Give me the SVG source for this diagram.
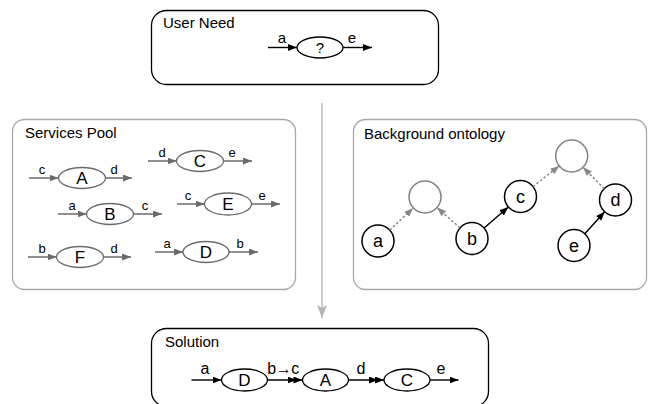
<svg xmlns="http://www.w3.org/2000/svg" width="655" height="404" viewBox="0 0 655 404">
<style>
text{font-family:"Liberation Sans",Arial,sans-serif;fill:#000}
.title{font-size:15px}
.box{fill:#fff;stroke:#000;stroke-width:1.3}
.pool{fill:#fff;stroke:#a8a8a8;stroke-width:1.3}
.sn{fill:#fff;stroke:#6a6a6a;stroke-width:1.3}
.sl{font-size:17px;text-anchor:middle}
.sm{font-size:13px;text-anchor:middle}
.ga{stroke:#6a6a6a;stroke-width:1.5;fill:none;marker-end:url(#ag)}
.ba{stroke:#000;stroke-width:1.4;fill:none;marker-end:url(#ab)}
.bd{stroke:#000;stroke-width:1.4;fill:none;marker-end:url(#abb)}
.bn{fill:#fff;stroke:#000;stroke-width:1.3}
.on{fill:#fff;stroke:#000;stroke-width:1.5}
.og{fill:#fff;stroke:#808080;stroke-width:1.5}
.ol{font-size:18px;text-anchor:middle}
.dot{stroke:#888;stroke-width:1.5;stroke-dasharray:2.5 2;fill:none;marker-end:url(#ad)}
.sol{stroke:#000;stroke-width:1.5;fill:none;marker-end:url(#ab)}
</style>
<defs>
<marker id="ab" viewBox="0 0 9 7" refX="9" refY="3.5" markerWidth="9" markerHeight="7" markerUnits="userSpaceOnUse" orient="auto"><path d="M0,0 L9,3.5 L0,7 z" fill="#000"/></marker>
<marker id="abb" viewBox="0 0 15 7" refX="15" refY="3.5" markerWidth="15" markerHeight="7" markerUnits="userSpaceOnUse" orient="auto"><path d="M0,0 L9,3.5 L0,7 z M6,0 L15,3.5 L6,7 z" fill="#000"/></marker>
<marker id="ag" viewBox="0 0 9 7" refX="9" refY="3.5" markerWidth="9" markerHeight="7" markerUnits="userSpaceOnUse" orient="auto"><path d="M0,0 L9,3.5 L0,7 z" fill="#6a6a6a"/></marker>
<marker id="ad" viewBox="0 0 9 7" refX="9" refY="3.5" markerWidth="9" markerHeight="7" markerUnits="userSpaceOnUse" orient="auto"><path d="M0,0 L9,3.5 L0,7 z" fill="#888"/></marker>
<marker id="av" viewBox="0 0 13 10" refX="13" refY="5" markerWidth="13" markerHeight="10" markerUnits="userSpaceOnUse" orient="auto"><path d="M0,0 L13,5 L0,10 L3,5 z" fill="#b4b4b4"/></marker>
</defs>

<g id="user-need">
<rect class="box" x="151.5" y="10.5" width="287" height="74" rx="15"/>
<text class="title" x="163" y="28">User Need</text>
<ellipse class="bn" cx="320" cy="47.5" rx="23" ry="10.5"/>
<text x="320" y="53" font-size="15" text-anchor="middle">?</text>
<text x="282" y="43" font-size="15" text-anchor="middle">a</text>
<text x="352" y="43" font-size="15" text-anchor="middle">e</text>
</g>

<g id="services-pool">
<rect class="pool" x="12.5" y="119.5" width="283" height="170" rx="12"/>
<text class="title" x="25" y="138">Services Pool</text>
</g>

<g id="svc-A">
<ellipse class="sn" cx="82" cy="178" rx="23.5" ry="10.5"/>
<text class="sl" x="82" y="184">A</text>
<text class="sm" x="42" y="174">c</text>
<text class="sm" x="114" y="174">d</text>
</g>
<g id="svc-C">
<ellipse class="sn" cx="200" cy="161" rx="23.5" ry="10.5"/>
<text class="sl" x="200" y="167">C</text>
<text class="sm" x="162" y="157">d</text>
<text class="sm" x="232" y="157">e</text>
</g>
<g id="svc-E">
<ellipse class="sn" cx="228" cy="204" rx="23.5" ry="11"/>
<text class="sl" x="228" y="210">E</text>
<text class="sm" x="188" y="200">c</text>
<text class="sm" x="262" y="200">e</text>
</g>
<g id="svc-B">
<ellipse class="sn" cx="110" cy="214" rx="23.5" ry="10.5"/>
<text class="sl" x="110" y="220">B</text>
<text class="sm" x="72" y="210">a</text>
<text class="sm" x="145" y="210">c</text>
</g>
<g id="svc-F">
<ellipse class="sn" cx="80" cy="257" rx="23.5" ry="10.5"/>
<text class="sl" x="80" y="263">F</text>
<text class="sm" x="42" y="253">b</text>
<text class="sm" x="114" y="253">d</text>
</g>
<g id="svc-D">
<ellipse class="sn" cx="206" cy="252" rx="23" ry="10.5"/>
<text class="sl" x="206" y="258">D</text>
<text class="sm" x="167" y="248">a</text>
<text class="sm" x="240" y="248">b</text>
</g>

<g id="background-ontology">
<rect class="pool" x="353.5" y="119.5" width="293" height="170" rx="12"/>
<text class="title" x="364" y="139">Background ontology</text>
</g>
<g id="ont-g1"><circle class="og" cx="425" cy="197" r="16"/></g>
<g id="ont-g2"><circle class="og" cx="571.7" cy="156" r="16"/></g>
<g id="ont-a"><circle class="on" cx="378" cy="241" r="16"/><text class="ol" x="378" y="247">a</text></g>
<g id="ont-b"><circle class="on" cx="472" cy="238.5" r="16"/><text class="ol" x="472" y="244.5">b</text></g>
<g id="ont-c"><circle class="on" cx="520.5" cy="196.5" r="16"/><text class="ol" x="520.5" y="202.5">c</text></g>
<g id="ont-d"><circle class="on" cx="615.5" cy="200" r="16"/><text class="ol" x="615.5" y="206">d</text></g>
<g id="ont-e"><circle class="on" cx="574" cy="245.5" r="16"/><text class="ol" x="574" y="251.5">e</text></g>

<g id="solution">
<rect class="box" x="151.5" y="328.5" width="337" height="78" rx="15"/>
<text class="title" x="165" y="347">Solution</text>
</g>
<g id="sol-D">
<ellipse class="bn" cx="244.5" cy="380" rx="23" ry="11"/>
<text class="sl" x="244.5" y="386">D</text>
</g>
<g id="sol-A">
<ellipse class="bn" cx="325.5" cy="380" rx="23" ry="11"/>
<text class="sl" x="325.5" y="386">A</text>
</g>
<g id="sol-C">
<ellipse class="bn" cx="407" cy="380" rx="23" ry="11"/>
<text class="sl" x="407" y="386">C</text>
</g>
<g id="sol-labels">
<text x="205" y="374" font-size="16" text-anchor="middle">a</text>
<text x="283" y="374" font-size="16" text-anchor="middle" letter-spacing="-0.5">b→c</text>
<text x="361" y="374" font-size="16" text-anchor="middle">d</text>
<text x="441" y="374" font-size="16" text-anchor="middle">e</text>
</g>

<g id="connectors">
<line class="ba" x1="268" y1="47.5" x2="297" y2="47.5"/>
<line class="ba" x1="343" y1="47.5" x2="372" y2="47.5"/>
<line class="ga" x1="29" y1="178" x2="58.5" y2="178"/>
<line class="ga" x1="105.5" y1="178" x2="132" y2="178"/>
<line class="ga" x1="148" y1="161" x2="176.5" y2="161"/>
<line class="ga" x1="223.5" y1="161" x2="252" y2="161"/>
<line class="ga" x1="177" y1="204" x2="204.5" y2="204"/>
<line class="ga" x1="251.5" y1="204" x2="280" y2="204"/>
<line class="ga" x1="58" y1="214" x2="86.5" y2="214"/>
<line class="ga" x1="133.5" y1="214" x2="162" y2="214"/>
<line class="ga" x1="28" y1="257" x2="56.5" y2="257"/>
<line class="ga" x1="103.5" y1="257" x2="131" y2="257"/>
<line class="ga" x1="155" y1="252" x2="183" y2="252"/>
<line class="ga" x1="229" y1="252" x2="258" y2="252"/>
<line class="dot" x1="389.7" y1="230.1" x2="413.3" y2="208.1"/>
<line class="dot" x1="460" y1="227.9" x2="437" y2="207.6"/>
<line class="sol" x1="484.1" y1="228" x2="508.4" y2="207"/>
<line class="dot" x1="533" y1="186.6" x2="559.2" y2="165.9"/>
<line class="dot" x1="604.2" y1="188.7" x2="583" y2="167.3"/>
<line class="sol" x1="584.8" y1="233.7" x2="604.7" y2="211.8"/>
<line x1="322" y1="103" x2="322" y2="318" stroke="#bdbdbd" stroke-width="1.5" marker-end="url(#av)"/>
<line class="ba" x1="191.5" y1="380" x2="221.5" y2="380"/>
<line class="bd" x1="267.5" y1="380" x2="302.5" y2="380"/>
<line class="bd" x1="348.5" y1="380" x2="384" y2="380"/>
<line class="ba" x1="430" y1="380" x2="458.5" y2="380"/>
</g>
</svg>
